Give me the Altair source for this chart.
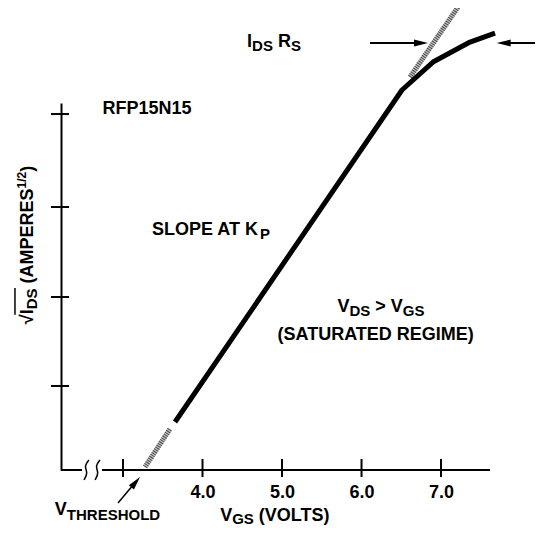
import altair as alt
import pandas as pd

FONT = "Liberation Sans"

# ---- scales (x: volts, y: sqrt(I_DS), arbitrary units) ----
X_DOMAIN = [2.220, 7.616]
Y_DOMAIN = [0.0, 4.124]
x_ticks = [3.0, 4.0, 5.0, 6.0, 7.0]
x_labels = [4.0, 5.0, 6.0, 7.0]
y_ticks = [0.944, 1.944, 2.955, 4.0]

# ---- curve ----
solid_v = [3.654, 6.509, 6.899, 7.365, 7.679]
solid_u = [0.539, 4.270, 4.584, 4.809, 4.910]
hatch_low_v = [3.277, 3.591]
hatch_low_u = [0.034, 0.461]
hatch_up_v = [6.610, 7.214]
hatch_up_u = [4.416, 5.202]

# ---- x axis line (broken) ----
axis_seg_v = [2.220, 2.736]
axis_seg_v2 = [2.484, 7.616]
squig1_v = [2.572, 2.509, 2.560, 2.509]
squig2_v = [2.711, 2.648, 2.698, 2.648]
squig_u = [0.112, 0.045, -0.034, -0.112]

# ---- arrows ----
arrow_u = 4.798
left_shaft_v = [6.107, 6.711]
left_tip_v = 6.836
right_shaft_v = [8.300, 7.805]
right_tip_v = 7.700
thr_shaft_v = [2.937, 3.132]
thr_shaft_u = [-0.371, -0.164]
thr_tip = (3.214, -0.079)

# ---- radical bar over I_DS ----
rad_bar_v = [1.641, 1.641]
rad_bar_u = [1.745, 2.045]

# ---- annotation anchors (v, u) ----
anchors = {
    "rfp": (3.302, 4.006),
    "slope": (4.107, 2.640),
    "idsrs": (4.899, 4.753),
    "vds": (6.245, 1.775),
    "sat": (6.195, 1.461),
    "thr": (2.805, -0.506),
    "xtitle": (4.918, -0.573),
    "ytitle": (1.868, 2.528),
}

W = {
    "A": 722, "B": 722, "C": 722, "D": 722, "E": 667, "F": 611, "G": 778, "H": 722,
    "I": 278, "J": 556, "K": 722, "L": 611, "M": 833, "N": 722, "O": 778, "P": 667,
    "Q": 778, "R": 722, "S": 667, "T": 611, "U": 722, "V": 667, "W": 944, "X": 667,
    "Y": 667, "Z": 611, " ": 278, "(": 333, ")": 333, ".": 278, "/": 278, ">": 584,
    "\u221a": 549,
}
for d in "0123456789":
    W[d] = 556


def tw(s, size):
    return sum(W.get(c, 600) for c in s) * size / 1000.0


X_ENC = alt.X(
    "v:Q",
    scale=alt.Scale(domain=X_DOMAIN, nice=False, zero=False),
    axis=alt.Axis(
        values=x_labels, format=".1f", domain=False, ticks=False, tickSize=0,
        grid=False, labelFont=FONT, labelFontSize=18, labelFontWeight="bold",
        labelColor="black", labelBaseline="alphabetic", labelPadding=27,
        title=None,
    ),
)
Y_ENC = alt.Y(
    "u:Q",
    scale=alt.Scale(domain=Y_DOMAIN, nice=False, zero=False),
    axis=alt.Axis(
        domain=True, domainColor="black", domainWidth=2, ticks=False,
        labels=False, grid=False, title=None,
    ),
)


def line_df(vs, us):
    return pd.DataFrame({"v": vs, "u": us, "i": list(range(len(vs)))})


layers = []

# x axis segments
seg_df = pd.DataFrame({"v": axis_seg_v, "v2": axis_seg_v2, "u": [0.0, 0.0]})
layers.append(
    alt.Chart(seg_df).mark_rule(color="black", strokeWidth=2).encode(
        x=X_ENC, x2="v2:Q", y=Y_ENC
    )
)
# x ticks crossing
layers.append(
    alt.Chart(pd.DataFrame({"v": x_ticks})).mark_rule(color="black", strokeWidth=2).encode(
        x=X_ENC, y=alt.value(356), y2=alt.value(374)
    )
)
# y ticks crossing
layers.append(
    alt.Chart(pd.DataFrame({"u": y_ticks})).mark_rule(color="black", strokeWidth=2).encode(
        y=Y_ENC, x=alt.value(-10), x2=alt.value(8)
    )
)
# squiggles
for sv in (squig1_v, squig2_v):
    layers.append(
        alt.Chart(line_df(sv, squig_u)).mark_line(
            color="black", strokeWidth=1.5, interpolate="basis"
        ).encode(x=X_ENC, y=Y_ENC, order="i:Q")
    )

# hatched extrapolations
for hv, hu in ((hatch_low_v, hatch_low_u), (hatch_up_v, hatch_up_u)):
    d = line_df(hv, hu)
    layers.append(
        alt.Chart(d).mark_line(color="#c8c8c8", strokeWidth=5).encode(
            x=X_ENC, y=Y_ENC, order="i:Q"
        )
    )
    layers.append(
        alt.Chart(d).mark_line(color="#444444", strokeWidth=5, strokeDash=[1, 1.2]).encode(
            x=X_ENC, y=Y_ENC, order="i:Q"
        )
    )

# main curve
layers.append(
    alt.Chart(line_df(solid_v, solid_u)).mark_line(
        color="black", strokeWidth=5, strokeJoin="round"
    ).encode(x=X_ENC, y=Y_ENC, order="i:Q")
)

# arrows shafts
for sv, su, w in (
    (left_shaft_v, [arrow_u, arrow_u], 2),
    (right_shaft_v, [arrow_u, arrow_u], 2),
    (thr_shaft_v, thr_shaft_u, 1.5),
):
    layers.append(
        alt.Chart(line_df(sv, su)).mark_line(color="black", strokeWidth=w).encode(
            x=X_ENC, y=Y_ENC, order="i:Q"
        )
    )

HEAD = "M0,0L-2,-0.5L-2,0.5Z"
for (hv, hu), ang, sz in (
    ((left_tip_v, arrow_u), 0, 196),
    ((right_tip_v, arrow_u), 180, 196),
    (thr_tip, 310, 180),
):
    layers.append(
        alt.Chart(pd.DataFrame({"v": [hv], "u": [hu]})).mark_point(
            shape=HEAD, filled=True, color="black", opacity=1, size=sz, angle=ang,
            strokeWidth=0,
        ).encode(x=X_ENC, y=Y_ENC)
    )

# radical bar
layers.append(
    alt.Chart(line_df(rad_bar_v, rad_bar_u)).mark_line(color="black", strokeWidth=1.5).encode(
        x=X_ENC, y=Y_ENC, order="i:Q"
    )
)


def label(key, pieces, angle=0):
    v, u = anchors[key]
    df = pd.DataFrame({"v": [v], "u": [u]})
    total = sum(tw(t, s) for t, s, _ in pieces)
    off = -total / 2.0
    out = []
    for t, s, dy in pieces:
        stripped = t.lstrip(" ")
        off += tw(t[: len(t) - len(stripped)], s)
        shown = stripped.rstrip(" ")
        if shown:
            kw = dict(
                text=shown, fontSize=s, dx=off, dy=dy, align="left",
                baseline="alphabetic", font=FONT, fontWeight="bold", color="black",
            )
            if angle:
                kw["angle"] = angle
            out.append(alt.Chart(df).mark_text(**kw).encode(x=X_ENC, y=Y_ENC))
        off += tw(stripped, s)
    return out


M, S = 18, 15
layers += label("rfp", [("RFP15N15", M, 0)])
layers += label("slope", [("SLOPE AT K", M, 0), ("P", S, 4)])
layers += label("idsrs", [("I", M, 0), ("DS", S, 4), (" R", M, 0), ("S", S, 4)])
layers += label("vds", [("V", M, 0), ("DS", S, 4), (" > ", M, 0), ("V", M, 0), ("GS", S, 4)])
layers += label("sat", [("(SATURATED REGIME)", M, 0)])
layers += label("thr", [("V", M, 0), ("THRESHOLD", S, 5)])
layers += label("xtitle", [("V", M, 0), ("GS", S, 3), (" (VOLTS)", M, 0)])
layers += label(
    "ytitle",
    [("\u221a", M, 0), ("I", M, 0), ("DS", S, 4), (" (AMPERES", M, 0), ("1/2", 12, -7), (")", M, 0)],
    angle=270,
)

chart = (
    alt.layer(*layers)
    .properties(
        width=429,
        height=367,
        autosize=alt.AutoSizeParams(type="none"),
        padding={"left": 53, "top": 95, "right": 45, "bottom": 57},
    )
    .configure_view(strokeWidth=0)
)

chart.save("out.html", embed_options={"renderer": "svg", "actions": False})
